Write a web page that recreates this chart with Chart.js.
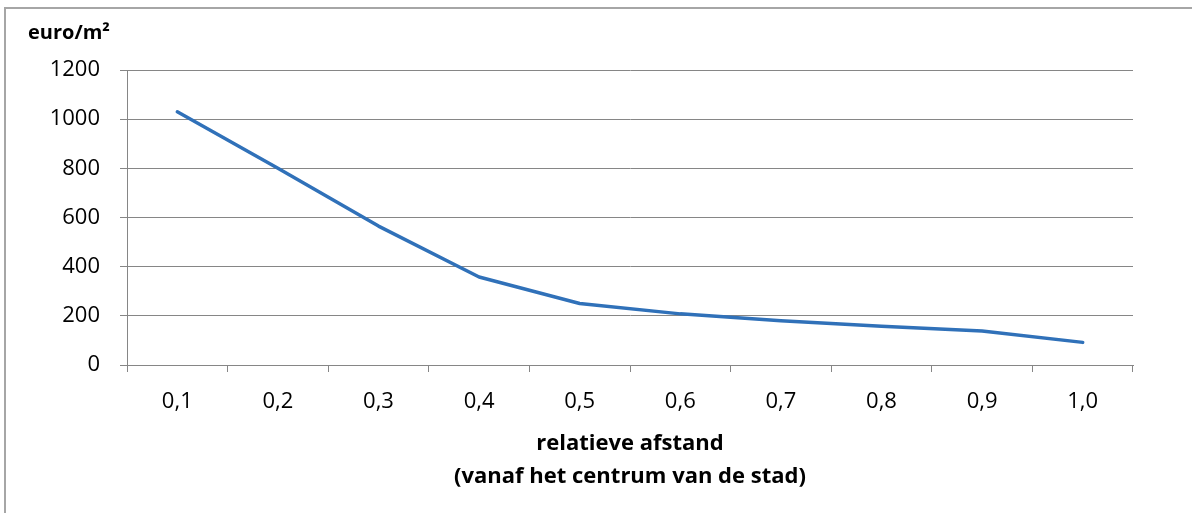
<!DOCTYPE html>
<html>
<head>
<meta charset="utf-8">
<script src="https://cdn.jsdelivr.net/npm/chart.js@4"></script>
<style>
  html, body { margin: 0; padding: 0; background: #ffffff; }
  #frame {
    position: absolute; left: 4px; top: 7px; width: 1300px; height: 600px;
    border-left: 2px solid #a6a6a6; border-top: 2px solid #a6a6a6;
  }
  #wrap { position: absolute; left: 0; top: 0; width: 1192px; height: 513px; }
</style>
</head>
<body>
<div id="frame"></div>
<div id="wrap"><canvas id="c" width="1192" height="513"></canvas></div>
<script>
// relative distance from the city centre
const categories = ['0,1', '0,2', '0,3', '0,4', '0,5', '0,6', '0,7', '0,8', '0,9', '1,0'];
// price in euro per square metre
const prices = [1030, 800, 565, 358, 250, 208, 180, 158, 138, 92];
const yTicks = [0, 200, 400, 600, 800, 1000, 1200];
const yUnit = 'euro/m²';
const xTitle = ['relatieve afstand', '(vanaf het centrum van de stad)'];

const FONT = "'Open Sans', 'DejaVu Sans', sans-serif";
const GRID = '#868686';

// horizontal unit label above the value axis
const unitLabel = {
  id: 'unitLabel',
  afterDraw(chart) {
    const { ctx, chartArea } = chart;
    ctx.save();
    ctx.font = `bold 20px ${FONT}`;
    ctx.fillStyle = '#000000';
    ctx.textAlign = 'left';
    ctx.textBaseline = 'middle';
    ctx.fillText(yUnit, chartArea.left - 99, chartArea.top - 37);
    ctx.restore();
  }
};

new Chart(document.getElementById('c'), {
  type: 'line',
  data: {
    labels: categories,
    datasets: [{
      data: prices,
      borderColor: '#3071b9',
      borderWidth: 3.5,
      pointRadius: 0,
      pointHoverRadius: 0,
      tension: 0,
      fill: false,
      borderCapStyle: 'round',
      borderJoinStyle: 'round'
    }]
  },
  options: {
    responsive: false,
    animation: false,
    events: [],
    layout: { padding: { top: 70, right: 59, left: 0, bottom: 0 } },
    plugins: { legend: { display: false }, tooltip: { enabled: false }, title: { display: false } },
    scales: {
      x: {
        offset: true,
        grid: { offset: true, drawOnChartArea: false, drawTicks: true, tickLength: 7, color: GRID, lineWidth: 1 },
        border: { display: true, color: GRID, width: 1 },
        ticks: { color: '#000000', font: { family: FONT, size: 22 }, padding: 17, maxRotation: 0, autoSkip: false },
        title: {
          display: true, text: xTitle, color: '#000000',
          font: { family: FONT, size: 22, weight: 'bold', lineHeight: 1.5 },
          padding: { top: 0, bottom: 20 }
        },
        afterFit(scale) { scale.height = 148; }
      },
      y: {
        min: 0, max: 1200,
        afterBuildTicks(scale) { scale.ticks = yTicks.map(v => ({ value: v })); },
        grid: { drawTicks: true, tickLength: 7, color: GRID, lineWidth: 1 },
        border: { display: true, color: GRID, width: 1 },
        ticks: { color: '#000000', font: { family: FONT, size: 22 }, padding: 20, callback: v => String(v) },
        afterFit(scale) { scale.width = 127; }
      }
    }
  },
  plugins: [unitLabel]
});
</script>
</body>
</html>
